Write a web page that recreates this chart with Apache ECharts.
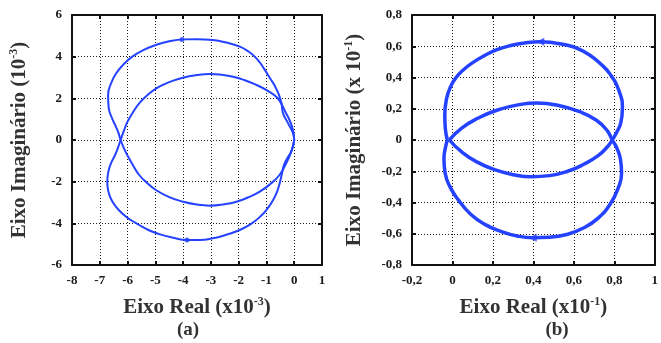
<!DOCTYPE html>
<html>
<head>
<meta charset="utf-8">
<script src="https://cdn.jsdelivr.net/npm/echarts@6/dist/echarts.min.js"></script>
<style>html,body{margin:0;padding:0;background:#fff}#c{width:661px;height:343px}</style>
</head>
<body>
<div id="c"></div>
<script>
// ---------- Panel (a) data (units: x1e-3) ----------
const xTickLabelsA = ['-8','-7','-6','-5','-4','-3','-2','-1','0','1'];
const yTickLabelsA = ['-6','-4','-2','0','2','4','6'];
// outer upper lobe (origin -> crossing) then inner lower lobe (crossing -> origin)
const curveA1 = [
  [0,0],[-0.05,0.35],[-0.22,0.8],[-0.4,1.28],[-0.46,1.76],[-0.56,2.2],[-0.7,2.6],[-0.87,2.96],
  [-1.1,3.45],[-1.36,3.92],[-1.65,4.25],[-1.96,4.48],[-2.45,4.68],[-2.93,4.8],[-3.5,4.84],
  [-4.0,4.83],[-4.5,4.74],[-4.98,4.56],[-5.45,4.3],[-5.83,4.0],[-6.15,3.62],[-6.42,3.18],
  [-6.6,2.7],[-6.7,2.16],[-6.68,1.55],[-6.57,1.08],[-6.44,0.7],[-6.33,0.35],[-6.25,0],
  [-6.13,-0.4],[-6.0,-0.75],[-5.8,-1.22],[-5.58,-1.68],[-5.3,-2.06],[-4.98,-2.4],[-4.5,-2.74],
  [-4.0,-2.96],[-3.5,-3.1],[-3.05,-3.15],[-2.5,-3.08],[-2.08,-2.96],[-1.65,-2.75],[-1.24,-2.48],
  [-0.85,-2.1],[-0.53,-1.68],[-0.32,-1.2],[-0.15,-0.72],[-0.05,-0.3],[0,0]
];
// inner upper lobe (origin -> crossing) then outer lower lobe (crossing -> origin)
const curveA2 = [
  [0,0],[-0.04,0.45],[-0.15,0.9],[-0.3,1.3],[-0.45,1.7],[-0.62,2.04],[-0.95,2.36],[-1.36,2.64],
  [-1.8,2.88],[-2.2,3.04],[-2.6,3.13],[-3.05,3.17],[-3.5,3.12],[-4.01,2.99],[-4.45,2.8],
  [-4.86,2.56],[-5.25,2.2],[-5.58,1.76],[-5.82,1.3],[-6.0,0.88],[-6.13,0.45],[-6.25,0],
  [-6.34,-0.35],[-6.45,-0.72],[-6.59,-1.1],[-6.69,-1.52],[-6.73,-2.0],[-6.7,-2.42],[-6.6,-2.82],
  [-6.42,-3.2],[-6.18,-3.54],[-5.9,-3.83],[-5.58,-4.08],[-5.25,-4.32],[-4.86,-4.52],[-4.4,-4.68],
  [-3.86,-4.8],[-3.4,-4.8],[-2.93,-4.72],[-2.45,-4.55],[-1.96,-4.32],[-1.58,-4.05],[-1.24,-3.7],
  [-0.98,-3.32],[-0.76,-2.88],[-0.61,-2.45],[-0.51,-2.0],[-0.44,-1.6],[-0.37,-1.2],[-0.24,-0.85],
  [-0.09,-0.5],[0,0]
];
const markersA = [[-4.04,4.83],[-3.86,-4.8]];

// ---------- Panel (b) data (units: x1e-1) ----------
const xTickLabelsB = ['-0,2','0','0,2','0,4','0,6','0,8','1'];
const yTickLabelsB = ['-0,8','-0,6','-0,4','-0,2','0','0,2','0,4','0,6','0,8'];
// inner lower lobe (left -> right crossing) then outer upper lobe (right -> left)
const curveB1 = [
  [-0.015,0],[0.04,-0.07],[0.12,-0.14],[0.22,-0.195],[0.3,-0.222],[0.39,-0.235],[0.48,-0.228],
  [0.57,-0.2],[0.65,-0.155],[0.72,-0.1],[0.765,-0.045],[0.79,0],
  [0.812,0.05],[0.832,0.11],[0.84,0.2],[0.826,0.305],[0.78,0.42],[0.73,0.49],[0.678,0.544],
  [0.62,0.585],[0.564,0.608],[0.5,0.622],[0.434,0.629],[0.36,0.622],[0.288,0.605],[0.22,0.578],
  [0.158,0.54],[0.1,0.495],[0.055,0.45],[0.018,0.4],[-0.01,0.34],[-0.03,0.26],[-0.038,0.16],
  [-0.035,0.07],[-0.025,0]
];
// inner upper lobe (left -> right crossing) then outer lower lobe (right -> left)
const curveB2 = [
  [-0.015,0],[0.044,0.075],[0.125,0.139],[0.223,0.192],[0.337,0.228],[0.418,0.237],[0.515,0.224],
  [0.629,0.181],[0.71,0.128],[0.765,0.06],[0.79,0],
  [0.812,-0.05],[0.83,-0.12],[0.836,-0.213],[0.82,-0.305],[0.78,-0.41],[0.72,-0.5],[0.65,-0.562],
  [0.57,-0.603],[0.48,-0.622],[0.397,-0.625],[0.32,-0.614],[0.24,-0.585],[0.16,-0.54],[0.09,-0.475],
  [0.03,-0.385],[-0.012,-0.3],[-0.036,-0.213],[-0.042,-0.12],[-0.035,-0.05],[-0.025,0]
];
const markersB = [[0.434,0.629],[0.397,-0.625]];

// ---------- styling ----------
const FONT = '"Liberation Serif", "Times New Roman", serif';
const BLUE = '#2442ff';
const richName = {
  t: {fontFamily: FONT, fontSize: 21, fontWeight: 'bold', color: '#333', lineHeight: 24},
  s: {fontFamily: FONT, fontSize: 12, fontWeight: 'bold', color: '#333', verticalAlign: 'top', lineHeight: 12}
};
function lab(arr, min, step) {
  return function (v) {
    const i = Math.round((v - min) / step);
    return arr[i] !== undefined ? arr[i] : '';
  };
}
const tickLabelStyle = {fontFamily: FONT, fontSize: 13, fontWeight: 'bold', color: '#1a1a1a'};
const frameLine = {show: true, onZero: false, lineStyle: {color: '#111', width: 2}};
const tickStyle = {show: true, inside: true, length: 4, lineStyle: {color: '#111', width: 2}};
const split = {show: true, lineStyle: {color: '#1a1a1a', width: 1, type: [1, 2]}};

function mainX(grid, min, max, step, labels, name, gap) {
  return {type: 'value', gridIndex: grid, min, max, interval: step, position: 'bottom',
    axisLine: frameLine, axisTick: tickStyle, splitLine: split,
    axisLabel: Object.assign({margin: 9, formatter: lab(labels, min, step)}, tickLabelStyle),
    name, nameLocation: 'middle', nameGap: gap, nameTextStyle: {rich: richName}};
}
function mainY(grid, min, max, step, labels, name, gap) {
  return {type: 'value', gridIndex: grid, min, max, interval: step, position: 'left',
    axisLine: frameLine, axisTick: tickStyle, splitLine: split,
    axisLabel: Object.assign({margin: 10, formatter: lab(labels, min, step)}, tickLabelStyle),
    name, nameLocation: 'middle', nameGap: gap, nameRotate: 90, nameTextStyle: {rich: richName}};
}
function boxX(grid, min, max, step) {
  return {type: 'value', gridIndex: grid, min, max, interval: step, position: 'top',
    axisLine: frameLine, axisTick: tickStyle, splitLine: {show: false}, axisLabel: {show: false}};
}
function boxY(grid, min, max, step) {
  return {type: 'value', gridIndex: grid, min, max, interval: step, position: 'right',
    axisLine: frameLine, axisTick: tickStyle, splitLine: {show: false}, axisLabel: {show: false}};
}
function curve(data, xi, yi, w) {
  return {type: 'line', xAxisIndex: xi, yAxisIndex: yi, data, showSymbol: false, smooth: 0.5,
    lineStyle: {color: BLUE, width: w}, silent: true, animation: false, z: 5};
}

const chart = echarts.init(document.getElementById('c'), null, {renderer: 'canvas'});
chart.setOption({
  animation: false,
  grid: [
    {left: 72, top: 15, width: 250, height: 250},
    {left: 412, top: 15, width: 246, height: 250}
  ],
  xAxis: [
    mainX(0, -8, 1, 1, xTickLabelsA, '{t|Eixo Real (x10}{s|-3}{t|)}', 31),
    mainX(1, -0.2, 1, 0.2, xTickLabelsB, '{t|Eixo Real (x10}{s|-1}{t|)}', 31),
    boxX(0, -8, 1, 1),
    boxX(1, -0.2, 1, 0.2)
  ],
  yAxis: [
    mainY(0, -6, 6, 2, yTickLabelsA, '{t|Eixo Imaginário (10}{s|-3}{t|)}', 40),
    mainY(1, -0.8, 0.8, 0.2, yTickLabelsB, '{t|Eixo Imaginário (x 10}{s|-1}{t|)}', 45),
    boxY(0, -6, 6, 2),
    boxY(1, -0.8, 0.8, 0.2)
  ],
  series: [
    curve(curveA1, 0, 0, 2),
    curve(curveA2, 0, 0, 2),
    curve(curveB1, 1, 1, 3.5),
    curve(curveB2, 1, 1, 3.5),
    {type: 'scatter', xAxisIndex: 0, yAxisIndex: 0, data: markersA, symbol: 'circle', symbolSize: 5,
      itemStyle: {color: BLUE}, silent: true, z: 6},
    {type: 'scatter', xAxisIndex: 1, yAxisIndex: 1, data: markersB, symbol: 'triangle', symbolSize: 8,
      symbolRotate: 90, itemStyle: {color: BLUE}, silent: true, z: 6}
  ],
  graphic: [
    {type: 'text', x: 188, y: 330, style: {text: '(a)', font: 'bold 19px ' + FONT, fill: '#333',
      textAlign: 'center', textVerticalAlign: 'middle'}},
    {type: 'text', x: 557, y: 330, style: {text: '(b)', font: 'bold 19px ' + FONT, fill: '#333',
      textAlign: 'center', textVerticalAlign: 'middle'}}
  ]
});
</script>
</body>
</html>
